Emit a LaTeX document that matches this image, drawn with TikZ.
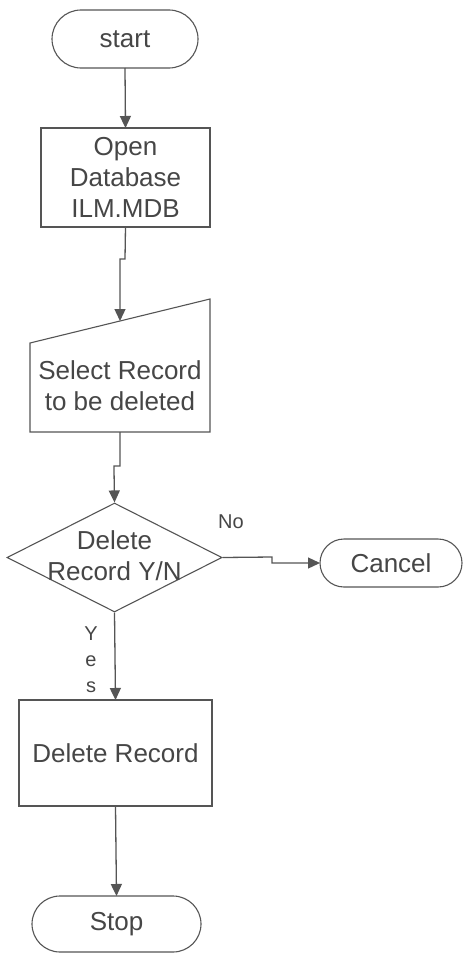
\documentclass[tikz,border=0pt]{standalone}
\usepackage{fontspec}
\setmainfont{Liberation Sans}
\usetikzlibrary{arrows.meta,shapes.geometric,shapes.misc}
\definecolor{ink}{HTML}{555555}
\definecolor{txt}{HTML}{464646}
\begin{document}
\begin{tikzpicture}[x=1pt,y=-1pt,
  every node/.style={text=txt,font=\fontsize{26}{31}\selectfont},
  outline/.style={draw=ink,line width=1.1pt},
  term/.style={outline,rounded rectangle,inner sep=0pt,outer sep=0pt},
  procbox/.style={outline,rectangle,inner sep=0pt,outer sep=0pt},
  flow/.style={draw=ink,line width=1.3pt,-{Triangle[length=12pt,width=11pt]}},
  lbl/.style={font=\fontsize{20}{26}\selectfont,inner sep=0pt}]
  % page
  \useasboundingbox[fill=white] (0,0) rectangle (463,953);

  % terminals and process boxes
  \node[term,minimum width=146,minimum height=58] (start) at (125,39) {start};
  \node[procbox,minimum width=169,minimum height=99,align=center] (open) at (125.5,177.5)
       {Open\\Database\\ILM.MDB};

  % manual input: frame for the slanted box, outline drawn below
  \node[rectangle,minimum width=180,minimum height=133,inner sep=0pt,outer sep=0pt] (sel) at (120,365.5) {};
  \coordinate (selcorner) at ([yshift=-44]sel.north west);
  \draw[outline,line join=miter] (sel.south west) -- (selcorner) -- (sel.north east)
       -- (sel.south east) -- cycle;
  \node[align=center,inner sep=0pt] (seltext) at (120,386) {Select Record\\to be deleted};

  % decision
  \node[diamond,outline,minimum width=215,minimum height=109,inner sep=0pt] (dec) at (114.5,557.5) {};
  \node[align=center,inner sep=0pt] (dectext) at (114.5,556) {Delete\\Record Y/N};

  \node[term,minimum width=142,minimum height=48] (cancel) at (391,563) {Cancel};
  \node[procbox,minimum width=193,minimum height=106] (del) at (115.5,753) {Delete Record};
  \node[term,minimum width=169,minimum height=56] (stop) at (116.5,924) {Stop};

  % connector end points and bends
  \coordinate (selin) at (120,321);
  \coordinate (j1a) at (125,259);
  \coordinate (j1b) at (120,262);
  \coordinate (j2a) at (120,466);
  \coordinate (j2b) at (114,469);
  \coordinate (j3) at (272,557);
  \coordinate (j4) at (272,563);

  % connectors
  \draw[flow] (start.south) -- (open.north);
  \draw[flow] (open.south) -- (j1a) -- (j1a -| j1b) -- (j1b) -- (selin);
  \draw[flow] (sel.south -| j2a) -- (j2a) -- (j2a -| j2b) -- (j2b) -- (dec.north);
  \draw[flow] (dec.east) -- (j3) -- (j4) -- (cancel.west);
  \draw[flow] (dec.south) -- (del.north);
  \draw[flow] (del.south) -- (stop.north);

  % branch labels
  \node[lbl] (no) at (231,522) {No};
  \node[lbl,align=center] (yes) at (91,660) {Y\\e\\s};
\end{tikzpicture}
\end{document}
